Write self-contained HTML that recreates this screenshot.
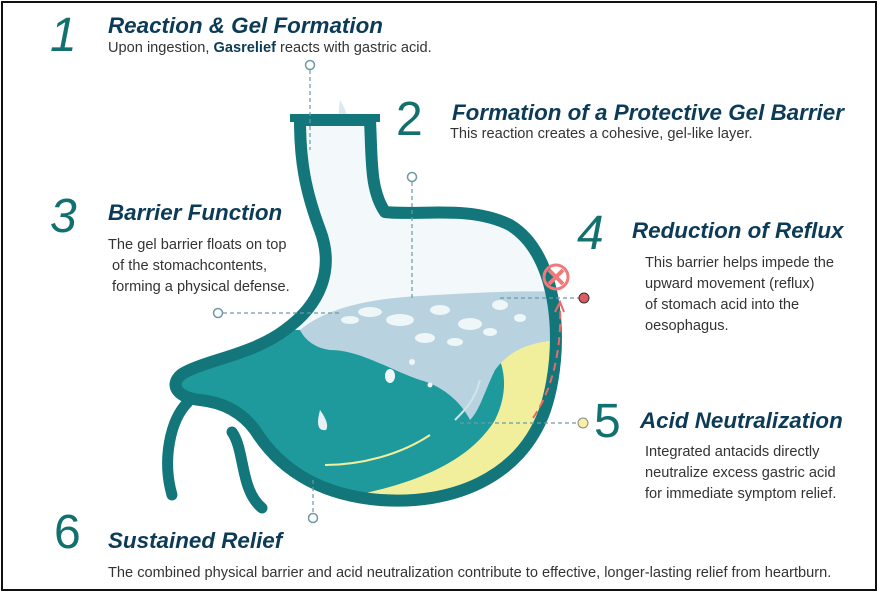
<!DOCTYPE html>
<html><head><meta charset="utf-8"><style>
html,body{margin:0;padding:0;background:#fff}
.wrap{position:relative;width:878px;height:592px;overflow:hidden;font-family:"Liberation Sans",sans-serif}
.frame{position:absolute;left:1px;top:1px;width:872px;height:586px;border:2px solid #111}
.n{position:absolute;color:#12706f;font-size:48px;line-height:1;font-style:italic}
.t{position:absolute;color:#0c3b57;font-size:22.4px;font-weight:bold;font-style:italic;white-space:nowrap;line-height:1}
.s{position:absolute;color:#333;font-size:14.6px;line-height:21px;white-space:nowrap}
svg{position:absolute;left:0;top:0}
</style></head><body><div class="wrap">
<svg width="878" height="592" viewBox="0 0 878 592">
<defs>
<clipPath id="cb"><path d="M300 120 L370 120 C372 160 370 190 385 212 C420 216 470 205 510 225 C560 255 565 350 545 410 C520 480 450 505 380 500 C320 495 280 470 255 430 C240 410 220 402 200 400 C178 398 168 385 182 374 C205 360 252 355 285 330 C320 305 335 270 320 230 C305 190 300 160 300 120 Z"/></clipPath>
</defs>
<path d="M340 100 Q352 120 346 128 Q336 128 340 100Z" fill="#dbe9ee"/>
<g clip-path="url(#cb)">
<rect x="150" y="100" width="450" height="420" fill="#f3f8fa"/>
<rect x="150" y="330" width="450" height="200" fill="#1e9a9c"/>
<path d="M330 500 C420 485 470 460 495 420 C510 390 505 360 490 345 L560 330 L560 520 L300 520Z" fill="#f2ef9c"/>
<path d="M300 330 C330 305 380 298 420 296 C470 293 520 290 560 292 L560 340 C530 342 510 350 495 370 C485 390 480 410 470 420 C460 400 440 385 420 380 C390 370 360 350 330 350 C315 348 305 340 300 330Z" fill="#b8d3df"/>
<g fill="#eef6f8">
<ellipse cx="370" cy="312" rx="12" ry="5"/><ellipse cx="400" cy="320" rx="14" ry="6"/><ellipse cx="440" cy="310" rx="10" ry="5"/><ellipse cx="470" cy="324" rx="12" ry="6"/><ellipse cx="500" cy="305" rx="8" ry="5"/><ellipse cx="425" cy="338" rx="10" ry="5"/><ellipse cx="455" cy="342" rx="8" ry="4"/><ellipse cx="490" cy="332" rx="7" ry="4"/><ellipse cx="390" cy="376" rx="5" ry="7"/><circle cx="412" cy="362" r="3"/><circle cx="430" cy="385" r="2.5"/><ellipse cx="520" cy="318" rx="6" ry="4"/><ellipse cx="350" cy="320" rx="9" ry="4"/>
</g>
<path d="M320 410 Q330 424 326 430 Q314 432 320 410Z" fill="#e6f1f4"/>
<path d="M325 465 C360 465 400 455 430 435" stroke="#f2ef9c" stroke-width="2" fill="none"/>
<path d="M480 380 C475 400 465 410 455 420" stroke="#cfe3ea" stroke-width="2" fill="none"/>
</g>
<path d="M300 120 L370 120 C372 160 370 190 385 212 C420 216 470 205 510 225 C560 255 565 350 545 410 C520 480 450 505 380 500 C320 495 280 470 255 430 C240 410 220 402 200 400 C178 398 168 385 182 374 C205 360 252 355 285 330 C320 305 335 270 320 230 C305 190 300 160 300 120 Z" fill="none" stroke="#12767a" stroke-width="12" stroke-linejoin="round"/>
<path d="M188 402 C170 420 162 460 172 495" fill="none" stroke="#12767a" stroke-width="11" stroke-linecap="round"/>
<path d="M232 432 C245 450 240 490 262 508" fill="none" stroke="#12767a" stroke-width="11" stroke-linecap="round"/>
<path d="M290 118 L380 118" stroke="#12767a" stroke-width="8"/>
<g stroke="#6a9aa6" stroke-width="1.2" stroke-dasharray="4 3" fill="none">
<line x1="310" y1="70" x2="310" y2="150"/>
<line x1="412" y1="182" x2="412" y2="300"/>
<line x1="223" y1="313" x2="340" y2="313"/>
<line x1="500" y1="298" x2="580" y2="298"/>
<line x1="460" y1="423" x2="578" y2="423"/>
<line x1="313" y1="480" x2="313" y2="513"/>
</g>
<g fill="#fff" stroke="#6a9aa6" stroke-width="1.5">
<circle cx="310" cy="65" r="4.5"/><circle cx="412" cy="177" r="4.5"/><circle cx="218" cy="313" r="4.5"/><circle cx="313" cy="518" r="4.5"/>
</g>
<circle cx="584" cy="298" r="5" fill="#e05a64" stroke="#333" stroke-width="1"/>
<circle cx="583" cy="423" r="5" fill="#f4f1a6" stroke="#888" stroke-width="1"/>
<path d="M533 418 C552 390 562 350 560 305" stroke="#e86a6a" stroke-width="2" stroke-dasharray="8 5" fill="none"/>
<path d="M555 312 L560 302 L564 312" stroke="#e86a6a" stroke-width="2" fill="none"/>
<circle cx="556" cy="277" r="12" fill="none" stroke="#f07a7a" stroke-width="3"/>
<path d="M549 270 L563 284 M563 270 L549 284" stroke="#f07a7a" stroke-width="4"/>
</svg>
<div class="frame"></div>
<div class="n" style="left:50px;top:12px">1</div>
<div class="t" style="left:108px;top:15px">Reaction &amp; Gel Formation</div>
<div class="s" style="left:108px;top:38px">Upon ingestion, <b style="color:#0c3b57">Gasrelief</b> reacts with gastric acid.</div>
<div class="n" style="left:396px;top:96px;font-style:normal">2</div>
<div class="t" style="left:452px;top:102px">Formation of a Protective Gel Barrier</div>
<div class="s" style="left:450px;top:124px">This reaction creates a cohesive, gel-like layer.</div>
<div class="n" style="left:50px;top:193px">3</div>
<div class="t" style="left:108px;top:202px">Barrier Function</div>
<div class="s" style="left:108px;top:235px">The gel barrier floats on top<br>&nbsp;of the stomachcontents,<br>&nbsp;forming a physical defense.</div>
<div class="n" style="left:577px;top:210px">4</div>
<div class="t" style="left:632px;top:220px">Reduction of Reflux</div>
<div class="s" style="left:645px;top:253px">This barrier helps impede the<br>upward movement (reflux)<br>of stomach acid into the<br>oesophagus.</div>
<div class="n" style="left:594px;top:398px;font-style:normal">5</div>
<div class="t" style="left:640px;top:410px">Acid Neutralization</div>
<div class="s" style="left:645px;top:442px">Integrated antacids directly<br>neutralize excess gastric acid<br>for immediate symptom relief.</div>
<div class="n" style="left:54px;top:509px;font-style:normal">6</div>
<div class="t" style="left:108px;top:530px">Sustained Relief</div>
<div class="s" style="left:108px;top:563px">The combined physical barrier and acid neutralization contribute to effective, longer-lasting relief from heartburn.</div>
</div></body></html>
